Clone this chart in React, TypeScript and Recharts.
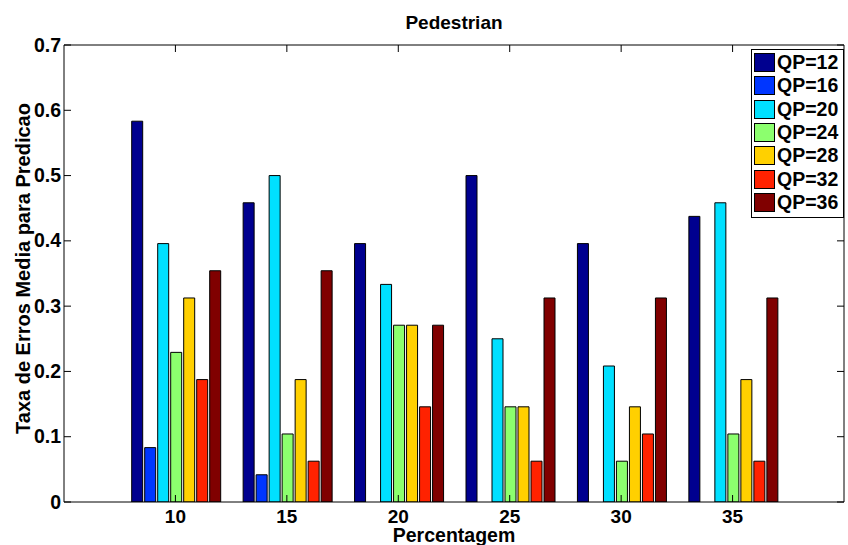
import React from 'react';
import { BarChart, Bar, XAxis, YAxis, Legend } from 'recharts';

const categories = ['10', '15', '20', '25', '30', '35'];
const qp12 = [0.5833, 0.4583, 0.3958, 0.5, 0.3958, 0.4375];
const qp16 = [0.0833, 0.0417, 0, 0, 0, 0];
const qp20 = [0.3958, 0.5, 0.3333, 0.25, 0.2083, 0.4583];
const qp24 = [0.2292, 0.1042, 0.2708, 0.1458, 0.0625, 0.1042];
const qp28 = [0.3125, 0.1875, 0.2708, 0.1458, 0.1458, 0.1875];
const qp32 = [0.1875, 0.0625, 0.1458, 0.0625, 0.1042, 0.0625];
const qp36 = [0.3542, 0.3542, 0.2708, 0.3125, 0.3125, 0.3125];
const seriesNames = ['QP=12', 'QP=16', 'QP=20', 'QP=24', 'QP=28', 'QP=32', 'QP=36'];
const seriesValues = [qp12, qp16, qp20, qp24, qp28, qp32, qp36];
const colors = ['#00008f', '#0036ff', '#00e0ff', '#8cff6e', '#ffd000', '#ff2200', '#800000'];
const yTicks = [0, 0.1, 0.2, 0.3, 0.4, 0.5, 0.6, 0.7];

const data = categories.map((c, i) => {
  const row: Record<string, string | number> = { cat: c };
  seriesNames.forEach((s, k) => {
    row[s] = seriesValues[k][i];
  });
  return row;
});

const FONT = '"Liberation Sans", Arial, Helvetica, sans-serif';
const fmt = (v: number) => (v === 0 ? '0' : v.toFixed(1));

const LeftTick = (p: any) => (
  <g>
    <line x1={p.x} y1={p.y} x2={p.x + 7} y2={p.y} stroke="#000" strokeWidth={1} />
    <text x={p.x - 3} y={p.y} dy={6.5} textAnchor="end" fontSize={19.5} fontWeight="bold" fontFamily={FONT} fill="#000">
      {fmt(p.payload.value)}
    </text>
  </g>
);

const RightTick = (p: any) => (
  <g>
    <line x1={p.x} y1={p.y} x2={p.x - 7} y2={p.y} stroke="#000" strokeWidth={1} />
  </g>
);

const BottomTick = (p: any) => (
  <g>
    <line x1={p.x} y1={p.y} x2={p.x} y2={p.y - 7} stroke="#000" strokeWidth={1} />
    <text x={p.x} y={p.y + 21} textAnchor="middle" fontSize={19} fontWeight="bold" fontFamily={FONT} fill="#000">
      {p.payload.value}
    </text>
  </g>
);

const TopTick = (p: any) => (
  <g>
    <line x1={p.x} y1={p.y} x2={p.x} y2={p.y + 7} stroke="#000" strokeWidth={1} />
  </g>
);

const LegendBox = (props: any) => {
  const items = props.payload || [];
  return (
    <div
      style={{
        width: 93,
        height: 169,
        border: '1px solid #000',
        background: '#fff',
        boxSizing: 'border-box',
        paddingTop: 1,
        paddingLeft: 2,
      }}
    >
      {items.map((it: any) => (
        <div key={it.value} style={{ display: 'flex', alignItems: 'center', height: 23.3 }}>
          <div
            style={{
              width: 21,
              height: 19,
              background: it.color,
              border: '1px solid #000',
              boxSizing: 'border-box',
              marginRight: 2,
            }}
          />
          <span style={{ fontFamily: FONT, fontWeight: 'bold', fontSize: 19.5, color: '#000', lineHeight: '19px' }}>
            {it.value}
          </span>
        </div>
      ))}
    </div>
  );
};

export default function App() {
  return (
    <div style={{ position: 'absolute', left: 0, top: 0, width: 848, height: 545, background: '#fff' }}>
      <BarChart
        width={848}
        height={545}
        data={data}
        margin={{ top: 44, right: 3, bottom: 0, left: 0 }}
        barCategoryGap={12}
        barGap={2}
      >
        <XAxis
          dataKey="cat"
          height={43}
          padding={{ left: 55.7, right: 55.7 }}
          tickSize={0}
          tickMargin={0}
          tickLine={false}
          axisLine={{ stroke: '#000', strokeWidth: 1 }}
          tick={BottomTick}
          interval={0}
          label={{
            content: (lp: any) => {
              const vb = lp.viewBox;
              return (
                <text x={vb.x + vb.width / 2} y={vb.y + 39.5} textAnchor="middle" fontSize={19.5} fontWeight="bold" fontFamily={FONT} fill="#000">
                  Percentagem
                </text>
              );
            },
          }}
        />
        <XAxis
          xAxisId="top"
          orientation="top"
          dataKey="cat"
          height={1}
          padding={{ left: 55.7, right: 55.7 }}
          tickSize={0}
          tickMargin={0}
          tickLine={false}
          axisLine={{ stroke: '#000', strokeWidth: 1 }}
          tick={TopTick}
          interval={0}
          label={{
            content: (lp: any) => {
              const vb = lp.viewBox;
              return (
                <text x={vb.x + vb.width / 2} y={vb.y - 15} textAnchor="middle" fontSize={19} fontWeight="bold" fontFamily={FONT} fill="#000">
                  Pedestrian
                </text>
              );
            },
          }}
        />
        <YAxis
          width={64}
          domain={[0, 0.7]}
          ticks={yTicks}
          type="number"
          allowDataOverflow
          tickSize={0}
          tickMargin={0}
          tickLine={false}
          axisLine={{ stroke: '#000', strokeWidth: 1 }}
          tick={LeftTick}
          interval={0}
          label={{
            content: (lp: any) => {
              const vb = lp.viewBox;
              const cx = 29.5;
              const cy = vb.y + vb.height / 2 - 5;
              return (
                <text x={cx} y={cy} transform={`rotate(-90 ${cx} ${cy})`} textAnchor="middle" fontSize={20} fontWeight="bold" fontFamily={FONT} fill="#000">
                  Taxa de Erros Media para Predicao
                </text>
              );
            },
          }}
        />
        <YAxis
          yAxisId="right"
          orientation="right"
          width={1}
          domain={[0, 0.7]}
          ticks={yTicks}
          type="number"
          allowDataOverflow
          tickSize={0}
          tickMargin={0}
          tickLine={false}
          axisLine={{ stroke: '#000', strokeWidth: 1 }}
          tick={RightTick}
          interval={0}
        />
        <Legend
          layout="vertical"
          align="center"
          verticalAlign="middle"
          content={LegendBox}
          wrapperStyle={{ left: 751, top: 49, width: 93, height: 169 }}
        />
        {seriesNames.map((s, k) => (
          <Bar key={s} dataKey={s} fill={colors[k]} stroke="#000" strokeWidth={1} isAnimationActive={false} />
        ))}
      </BarChart>
    </div>
  );
}
